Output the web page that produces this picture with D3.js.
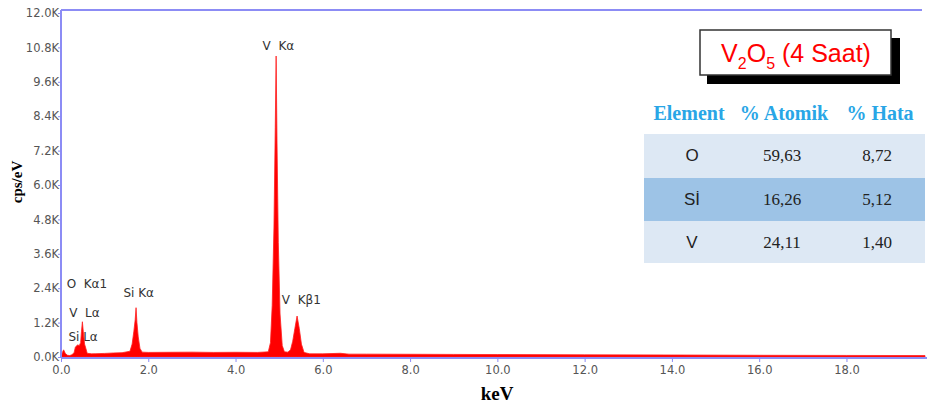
<!DOCTYPE html>
<html>
<meta charset="utf-8" />
<head>
  <script src="https://cdnjs.cloudflare.com/ajax/libs/d3/7.8.5/d3.min.js"></script>
  <style>
    body { margin: 0; background: #fff; }
  </style>
</head>
<body>
<script>
// spectrum (keV, cps/eV)
const energies = [0, 0.03, 0.06, 0.1, 0.15, 0.2, 0.25, 0.3, 0.33, 0.38, 0.42, 0.45, 0.47, 0.49, 0.51, 0.54, 0.57, 0.6,
  0.7, 0.8, 1.0, 1.2, 1.4, 1.58, 1.63, 1.67, 1.7, 1.72, 1.74, 1.77, 1.81, 1.86, 2.0, 2.5, 3.0, 3.5, 4.0, 4.5,
  4.75, 4.8, 4.84, 4.88, 4.91, 4.93, 4.95, 4.98, 5.02, 5.07, 5.12, 5.2, 5.26, 5.31, 5.36, 5.41, 5.46, 5.51, 5.57,
  5.7, 6.0, 6.4, 6.6, 7, 8, 9, 10, 12, 14, 16, 18, 19.8];
const counts = [0, 150, 250, 120, 60, 50, 80, 150, 350, 420, 400, 500, 900, 1230, 900, 450, 300, 130,
  110, 115, 125, 140, 150, 200, 450, 900, 1300, 1720, 1200, 700, 300, 170, 160, 165, 170, 160, 165, 160,
  180, 500, 1800, 4500, 8000, 10500, 7500, 4000, 1500, 400, 180, 170, 250, 550, 1000, 1430, 1000, 450, 160,
  110, 110, 130, 100, 100, 95, 90, 85, 75, 70, 60, 55, 50];

const yTicks = [0, 1200, 2400, 3600, 4800, 6000, 7200, 8400, 9600, 10800, 12000];
const xTicks = [0, 2, 4, 6, 8, 10, 12, 14, 16, 18];

const peakLabels = ["V  Kα", "O  Kα1", "V  Lα", "Si Lα", "Si Kα", "V  Kβ1"];
const peakLabelKeV = [4.62, 0.13, 0.19, 0.17, 1.43, 5.06];
const peakLabelCps = [10710, 2400, 1410, 560, 2110, 1850];

const elements = ["O", "Sİ", "V"];
const atomik = ["59,63", "16,26", "24,11"];
const hata = ["8,72", "5,12", "1,40"];

const W = 927, H = 410;
const svg = d3.select("body").append("svg").attr("width", W).attr("height", H);

const x = d3.scaleLinear().domain([0, 19.8]).range([61, 925]);
const y = d3.scaleLinear().domain([0, 12000]).range([357, 13]);

const axisColor = "#8c8cf5";

// spectrum
const pts = energies.map((e, i) => [e, counts[i]]);
const area = d3.area().x(d => x(d[0])).y0(y(0)).y1(d => y(d[1]));
svg.append("path").datum(pts).attr("d", area).attr("fill", "#ff0000")
  .attr("stroke", "#ff2020").attr("stroke-width", 0.8);

// frame lines
svg.append("line").attr("x1", 61).attr("x2", 61).attr("y1", 10).attr("y2", 358)
  .attr("stroke", axisColor).attr("stroke-width", 2);
svg.append("line").attr("x1", 61).attr("x2", 922).attr("y1", 10).attr("y2", 10)
  .attr("stroke", axisColor).attr("stroke-width", 2);
svg.append("line").attr("x1", 61).attr("x2", 927).attr("y1", 358).attr("y2", 358)
  .attr("stroke", axisColor).attr("stroke-width", 2);

// y axis
const yAxis = d3.axisLeft(y).tickValues(yTicks).tickSize(2)
  .tickFormat(d => (d / 1000).toFixed(1) + "K");
const gy = svg.append("g").attr("transform", "translate(60,0)").call(yAxis);
gy.select(".domain").remove();
gy.selectAll("line").attr("stroke", axisColor);
gy.selectAll("text").attr("font-family", "DejaVu Sans").attr("font-size", 11.5)
  .attr("fill", "#555").attr("x", -1);

// x axis
const xAxis = d3.axisBottom(x).tickValues(xTicks).tickSize(3).tickFormat(d3.format(".1f"));
const gx = svg.append("g").attr("transform", "translate(0,359)").call(xAxis);
gx.select(".domain").remove();
gx.selectAll("line").attr("stroke", axisColor);
gx.selectAll("text").attr("font-family", "DejaVu Sans").attr("font-size", 11.5)
  .attr("fill", "#555").attr("y", 7);

// axis titles
svg.append("text").attr("transform", "translate(22,182) rotate(-90)")
  .attr("text-anchor", "middle").attr("font-family", "Liberation Serif")
  .attr("font-weight", "bold").attr("font-size", 15).text("cps/eV");
svg.append("text").attr("x", 497).attr("y", 400).attr("text-anchor", "middle")
  .attr("font-family", "Liberation Serif").attr("font-weight", "bold")
  .attr("font-size", 19).text("keV");

// peak labels
svg.selectAll(".pk").data(peakLabels).enter().append("text")
  .attr("x", (d, i) => x(peakLabelKeV[i]))
  .attr("y", (d, i) => y(peakLabelCps[i]))
  .attr("font-family", "DejaVu Sans").attr("font-size", 12).attr("fill", "#333")
  .style("white-space", "pre")
  .text(d => d);

// title box
svg.append("rect").attr("x", 707).attr("y", 38).attr("width", 193).attr("height", 46).attr("fill", "#000");
svg.append("rect").attr("x", 700).attr("y", 30).attr("width", 191).attr("height", 45)
  .attr("fill", "#fff").attr("stroke", "#333").attr("stroke-width", 1.5);
const title = svg.append("text").attr("x", 796).attr("y", 62).attr("text-anchor", "middle")
  .attr("font-family", "Liberation Sans").attr("font-size", 25).attr("fill", "#ff0000");
title.append("tspan").text("V");
title.append("tspan").attr("dy", 7).attr("font-size", 16).text("2");
title.append("tspan").attr("dy", -7).text("O");
title.append("tspan").attr("dy", 7).attr("font-size", 16).text("5");
title.append("tspan").attr("dy", -7).text(" (4 Saat)");

// table
const headers = ["Element", "% Atomik", "% Hata"];
const headX = [689, 784, 880];
const colX = [692, 782, 877];
svg.selectAll(".hd").data(headers).enter().append("text")
  .attr("x", (d, i) => headX[i]).attr("y", 120).attr("text-anchor", "middle")
  .attr("font-family", "Liberation Serif").attr("font-weight", "bold").attr("font-size", 20)
  .attr("fill", "#29a6e6").text(d => d);

const rowY = [134, 178, 221];
const rowH = [44, 43, 42];
const rowFill = ["#dde8f4", "#9dc3e6", "#dde8f4"];
elements.forEach((el, i) => {
  svg.append("rect").attr("x", 644).attr("y", rowY[i]).attr("width", 281).attr("height", rowH[i])
    .attr("fill", rowFill[i]);
  const by = rowY[i] + 27;
  svg.append("text").attr("x", colX[0]).attr("y", by).attr("text-anchor", "middle")
    .attr("font-family", "Liberation Sans").attr("font-size", 17).attr("fill", "#222").text(el);
  svg.append("text").attr("x", colX[1]).attr("y", by).attr("text-anchor", "middle")
    .attr("font-family", "Liberation Serif").attr("font-size", 17).attr("fill", "#222").text(atomik[i]);
  svg.append("text").attr("x", colX[2]).attr("y", by).attr("text-anchor", "middle")
    .attr("font-family", "Liberation Serif").attr("font-size", 17).attr("fill", "#222").text(hata[i]);
});
</script>
</body>
</html>
